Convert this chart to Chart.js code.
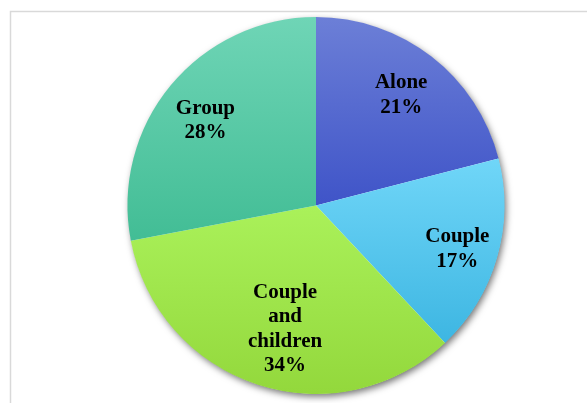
<!DOCTYPE html>
<html>
<head>
<meta charset="utf-8">
<script src="https://cdn.jsdelivr.net/npm/chart.js@4.4.1/dist/chart.umd.min.js"></script>
<style>
  html, body { margin: 0; padding: 0; background: #fff; }
  #wrap { position: relative; width: 587px; height: 403px; }
</style>
</head>
<body>
<div id="wrap"><canvas id="pieChart" width="587" height="403"></canvas></div>
<script>
var categories = ['Alone', 'Couple', 'Couple and children', 'Group'];
var shares = [21, 17, 34, 28];

// gradient stops per slice, lighter at top
var topColors = ['#6c7fd7', '#70d6f8', '#aaf15a', '#6fd5b6'];
var bottomColors = ['#3f54c8', '#3db6e2', '#93d83c', '#42bd95'];
// nudges for the label blocks, relative to the slice centroid
var labelNudge = [[2, -5], [11, 4], [11, -7], [-6, 0]];

// vertical extent of an arc (angles in canvas radians)
function arcYRange(cy, r, a0, a1) {
	var ys = [cy, cy + r * Math.sin(a0), cy + r * Math.sin(a1)];
	var k;
	for (k = Math.ceil((a0 - Math.PI / 2) / Math.PI); Math.PI / 2 + k * Math.PI <= a1; k++) {
		ys.push(cy + r * Math.sin(Math.PI / 2 + k * Math.PI));
	}
	return [Math.min.apply(null, ys), Math.max.apply(null, ys)];
}

function sliceFill(context) {
	var chart = context.chart;
	var i = context.dataIndex;
	var area = chart.chartArea;
	if (!area) return topColors[i];
	var cy = (area.top + area.bottom) / 2;
	var r = Math.min(area.right - area.left, area.bottom - area.top) / 2;
	var total = shares.reduce(function (a, b) { return a + b; }, 0);
	var before = 0;
	for (var j = 0; j < i; j++) before += shares[j];
	var a0 = -Math.PI / 2 + before / total * Math.PI * 2;
	var a1 = a0 + shares[i] / total * Math.PI * 2;
	var yr = arcYRange(cy, r, a0, a1);
	var g = chart.ctx.createLinearGradient(0, yr[0], 0, yr[1]);
	g.addColorStop(0, topColors[i]);
	g.addColorStop(1, bottomColors[i]);
	return g;
}

// outer frame of the chart box
var framePlugin = {
	id: 'frame',
	beforeDraw: function (chart) {
		var ctx = chart.ctx;
		ctx.save();
		ctx.strokeStyle = '#d9d9d9';
		ctx.lineWidth = 1.5;
		ctx.strokeRect(10.5, 11.5, 800, 600);
		ctx.restore();
	}
};

// soft drop shadow under the whole pie
var shadowPlugin = {
	id: 'pieShadow',
	beforeDatasetsDraw: function (chart) {
		var arc = chart.getDatasetMeta(0).data[0];
		if (!arc) return;
		var ctx = chart.ctx;
		ctx.save();
		ctx.shadowColor = 'rgba(0,0,0,0.55)';
		ctx.shadowBlur = 7;
		ctx.shadowOffsetX = 2;
		ctx.shadowOffsetY = 3;
		ctx.fillStyle = '#ffffff';
		ctx.beginPath();
		ctx.arc(arc.x, arc.y, arc.outerRadius - 0.5, 0, Math.PI * 2);
		ctx.fill();
		ctx.restore();
	}
};

// category name and share written inside each slice
var labelPlugin = {
	id: 'sliceLabels',
	afterDatasetsDraw: function (chart) {
		var ctx = chart.ctx;
		var meta = chart.getDatasetMeta(0);
		var lh = 24.5;
		ctx.save();
		ctx.font = 'bold 21px "Liberation Serif", "Times New Roman", serif';
		ctx.fillStyle = '#000000';
		ctx.textAlign = 'center';
		ctx.textBaseline = 'alphabetic';
		meta.data.forEach(function (arc, i) {
			var mid = (arc.startAngle + arc.endAngle) / 2;
			var rr = arc.outerRadius * 0.72;
			var x = arc.x + Math.cos(mid) * rr + labelNudge[i][0];
			var y = arc.y + Math.sin(mid) * rr + labelNudge[i][1];
			var lines = categories[i].split(' ');
			lines.push(shares[i] + '%');
			var n = lines.length;
			lines.forEach(function (t, k) {
				ctx.fillText(t, x, y + (k - (n - 1) / 2) * lh + 7);
			});
		});
		ctx.restore();
	}
};

var myChart = new Chart(document.getElementById('pieChart'), {
	type: 'pie',
	data: {
		labels: categories,
		datasets: [{
			data: shares,
			backgroundColor: sliceFill,
			borderWidth: 0
		}]
	},
	options: {
		responsive: false,
		animation: false,
		events: [],
		layout: {
			padding: { left: 45, right: 0, top: 17, bottom: 9 }
		},
		plugins: {
			legend: { display: false },
			tooltip: { enabled: false },
			title: { display: false }
		}
	},
	plugins: [framePlugin, shadowPlugin, labelPlugin]
});
</script>
</body>
</html>
